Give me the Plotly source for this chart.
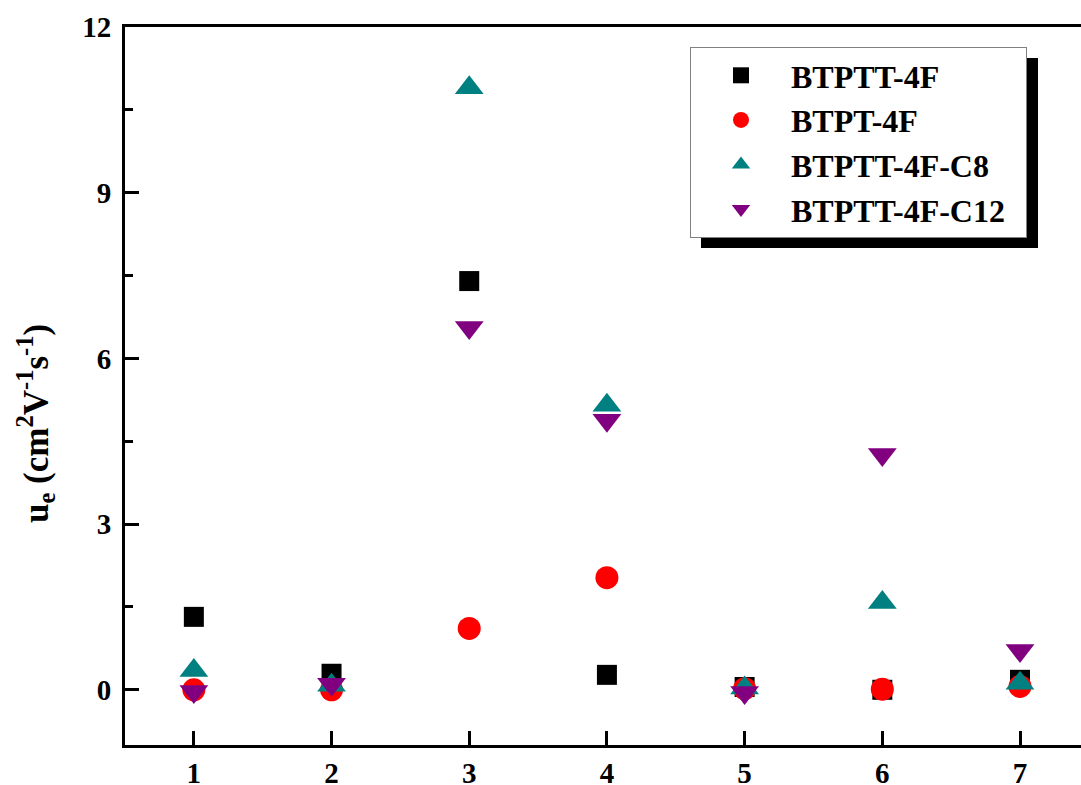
import plotly.graph_objects as go

x_vals = [1, 2, 3, 4, 5, 6, 7]
btptt_4f = [1.32, 0.29, 7.40, 0.27, 0.05, 0.00, 0.18]
btpt_4f = [0.00, 0.00, 1.11, 2.03, 0.02, 0.01, 0.06]
btptt_4f_c8 = [0.35, 0.08, 10.90, 5.15, 0.03, 1.58, 0.12]
btptt_4f_c12 = [-0.03, 0.10, 6.56, 4.88, -0.05, 4.26, 0.71]

series_names = ["BTPTT-4F", "BTPT-4F", "BTPTT-4F-C8", "BTPTT-4F-C12"]
series_data = [btptt_4f, btpt_4f, btptt_4f_c8, btptt_4f_c12]
series_colors = ["#000000", "#FF0000", "#008080", "#800080"]
series_symbols = ["square", "circle", "triangle-up", "triangle-down"]
series_sizes = [20, 23, 25, 25]

y_ticks = [0, 3, 6, 9, 12]

FONT = "Liberation Serif"

fig = go.Figure()
for name, data, col, sym, sz in zip(series_names, series_data, series_colors, series_symbols, series_sizes):
    label = name + ("\u00a0\u00a0" if name == "BTPTT-4F-C12" else "")
    fig.add_trace(go.Scatter(
        x=x_vals, y=data, mode="markers", name=label,
        marker=dict(symbol=sym, color=col, size=sz, line=dict(width=0)),
    ))

# plot area: left 125, right 1081, top 27, bottom 745
L, R, T, B = 125, 1081, 27, 745
W, H = R - L, B - T

def px(xp):
    return (xp - L) / W

def py(yp):
    return (B - yp) / H

fig.add_shape(type="rect", xref="paper", yref="paper",
              x0=px(701), x1=px(1038), y0=py(248), y1=py(58),
              fillcolor="black", line=dict(width=0), layer="below")

fig.add_annotation(
    text="<b>u<sub>e</sub> (cm<sup>2</sup>V<sup>-1</sup>s<sup>-1</sup>)</b>",
    xref="paper", yref="paper", x=px(35), y=py(424),
    xanchor="center", yanchor="middle", textangle=-90, showarrow=False,
    font=dict(family=FONT, size=35, color="black"),
)

fig.update_layout(
    width=1081, height=785,
    margin=dict(l=L, r=1081 - R, t=T, b=785 - B),
    paper_bgcolor="white", plot_bgcolor="white",
    font=dict(family=FONT, color="black", weight="bold"),
    showlegend=True,
    legend=dict(
        x=px(690), y=py(47), xanchor="left", yanchor="top",
        bgcolor="white", bordercolor="#808080", borderwidth=1,
        font=dict(family=FONT, size=32, color="black", weight="bold"),
        itemwidth=90, tracegroupgap=0,
    ),
    xaxis=dict(
        range=[0.5, 7.443], tickmode="array", tickvals=x_vals,
        ticktext=[str(v) for v in x_vals],
        showgrid=False, zeroline=False, automargin=False,
        showline=True, linewidth=3, linecolor="black", mirror=True,
        ticks="inside", ticklen=14, tickwidth=3, tickcolor="black",
        tickfont=dict(family=FONT, size=29, color="black", weight="bold"),
        ticklabelstandoff=0,
    ),
    yaxis=dict(
        range=[-1, 12], tickmode="array", tickvals=y_ticks,
        ticktext=[str(v) for v in y_ticks],
        showgrid=False, zeroline=False, automargin=False,
        showline=True, linewidth=3, linecolor="black", mirror=False,
        ticks="inside", ticklen=14, tickwidth=3, tickcolor="black",
        tickfont=dict(family=FONT, size=29, color="black", weight="bold"),
        ticklabelstandoff=5,
        minor=dict(dtick=1.5, tick0=0, ticks="inside", ticklen=8, tickwidth=3, tickcolor="black"),
    ),
)

fig.write_html("out.html")
